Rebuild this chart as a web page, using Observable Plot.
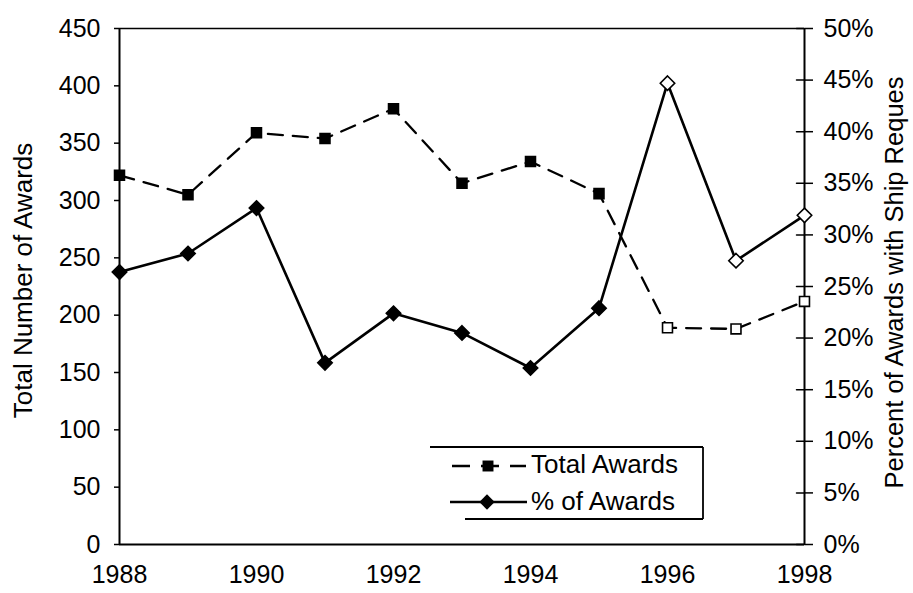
<!DOCTYPE html>
<html><head><meta charset="utf-8">
<script src="https://cdn.jsdelivr.net/npm/d3@7"></script>
<script src="https://cdn.jsdelivr.net/npm/@observablehq/plot@0.6"></script>
<style>
body{margin:0;background:#fff;}
#wrap{position:relative;width:913px;height:593px;font-family:"Liberation Sans",Arial,sans-serif;}
#legend{position:absolute;left:0;top:0;}
</style>
</head><body><div id="wrap"></div>
<script>
const years = [1988,1989,1990,1991,1992,1993,1994,1995,1996,1997,1998];
const totalAwards = [322,305,359,354,380,315,334,306,189,188,212];
const pctAwards = [26.4,28.2,32.6,17.6,22.4,20.5,17.1,22.9,44.7,27.5,31.9];
const filledMarker = [true,true,true,true,true,true,true,true,false,false,false];
const leftTicks = [0,50,100,150,200,250,300,350,400,450];
const rightTicks = [0,5,10,15,20,25,30,35,40,45,50];
const xTicks = [1988,1990,1992,1994,1996,1998];
const seriesNames = ["Total Awards","% of Awards"];
const leftTitle = "Total Number of Awards";
const rightTitle = "Percent of Awards with Ship Reques";

const k = 450/50; // percent -> left-axis units
const rows = years.map((y,i)=>({year:y,total:totalAwards[i],pct:pctAwards[i],pctY:pctAwards[i]*k,filled:filledMarker[i]}));
const lineShape = {draw(ctx,l){ctx.moveTo(0,0);ctx.lineTo(0,-l);}};
const font = '"Liberation Sans",Arial,sans-serif';

const chart = Plot.plot({
  width: 913, height: 593,
  marginLeft: 119, marginRight: 109, marginTop: 28, marginBottom: 49,
  style: {fontFamily: font, fontSize: "25px", color: "black", background: "white"},
  x: {domain: [1988,1998]},
  y: {domain: [0,450]},
  marks: [
    Plot.ruleY([450], {stroke: "black", strokeWidth: 1.3}),
    Plot.ruleY([0], {stroke: "black", strokeWidth: 2}),
    Plot.ruleX([years[0], years[years.length-1]], {stroke: "black", strokeWidth: 2}),
    Plot.axisX({ticks: xTicks, tickFormat: d=>String(d), tickSize: 0, tickPadding: 21, label: null, fontSize: 25}),
    Plot.axisY({anchor: "left", ticks: leftTicks, tickSize: 5, tickPadding: 14, strokeWidth: 1.5,
      label: null, fontSize: 25}),
    Plot.axisY({anchor: "right", ticks: rightTicks.map(t=>t*k), tickFormat: d=>Math.round(d/k)+"%",
      tickSize: 8, tickPadding: 11, strokeWidth: 1.5, label: null, fontSize: 25}),
    Plot.vector(rightTicks, {x: ()=>years[years.length-1], y: d=>d*k, length: 8, rotate: -90, anchor: "start",
      shape: lineShape, stroke: "black", strokeWidth: 1.5}),
    Plot.text([leftTitle], {text: d=>d, frameAnchor: "left", rotate: -90, dx: -96, dy: -6,
      textAnchor: "middle", lineAnchor: "middle", fontSize: 26, fill: "black"}),
    Plot.text([rightTitle], {text: d=>d, frameAnchor: "right", rotate: -90, dx: 90, dy: -4,
      textAnchor: "middle", lineAnchor: "middle", fontSize: 25.5, fill: "black"}),
    Plot.line(rows, {x: "year", y: "total", stroke: "black", strokeWidth: 2.3, strokeDasharray: "15,10"}),
    Plot.line(rows, {x: "year", y: "pctY", stroke: "black", strokeWidth: 2.6}),
    Plot.dot(rows, {x: "year", y: "total", symbol: "square", r: 5.6, stroke: "black", strokeWidth: 1.6,
      fill: d=>d.filled ? "black" : "white"}),
    Plot.dot(rows, {x: "year", y: "pctY", symbol: "diamond2", r: 6.5, stroke: "black", strokeWidth: 1.6,
      fill: d=>d.filled ? "black" : "white"})
  ]
});
const wrap = document.getElementById("wrap");
wrap.appendChild(chart);

// Legend (overlay)
const lg = d3.select(wrap).append("svg").attr("id","legend").attr("width",913).attr("height",593)
  .style("font-family", font);
lg.append("line").attr("x1",430).attr("x2",703).attr("y1",447).attr("y2",447).attr("stroke","black").attr("stroke-width",1.8);
lg.append("line").attr("x1",703).attr("x2",703).attr("y1",447).attr("y2",519).attr("stroke","black").attr("stroke-width",1.8);
lg.append("line").attr("x1",465).attr("x2",703).attr("y1",519).attr("y2",519).attr("stroke","black").attr("stroke-width",1.8);
// row 1
lg.append("line").attr("x1",452).attr("x2",526).attr("y1",466).attr("y2",466).attr("stroke","black").attr("stroke-width",2.6).attr("stroke-dasharray","18,11");
lg.append("path").attr("d", d3.symbol(d3.symbolSquare, 120)()).attr("transform","translate(488,466)").attr("fill","black");
lg.append("text").attr("x",531).attr("y",473).attr("font-size",26).text(seriesNames[0]);
// row 2
lg.append("line").attr("x1",450).attr("x2",527).attr("y1",502).attr("y2",502).attr("stroke","black").attr("stroke-width",2.6);
lg.append("path").attr("d", d3.symbol(d3.symbolDiamond2, 150)()).attr("transform","translate(487,502)").attr("fill","black");
lg.append("text").attr("x",531).attr("y",510).attr("font-size",26).text(seriesNames[1]);
</script>
</body></html>
